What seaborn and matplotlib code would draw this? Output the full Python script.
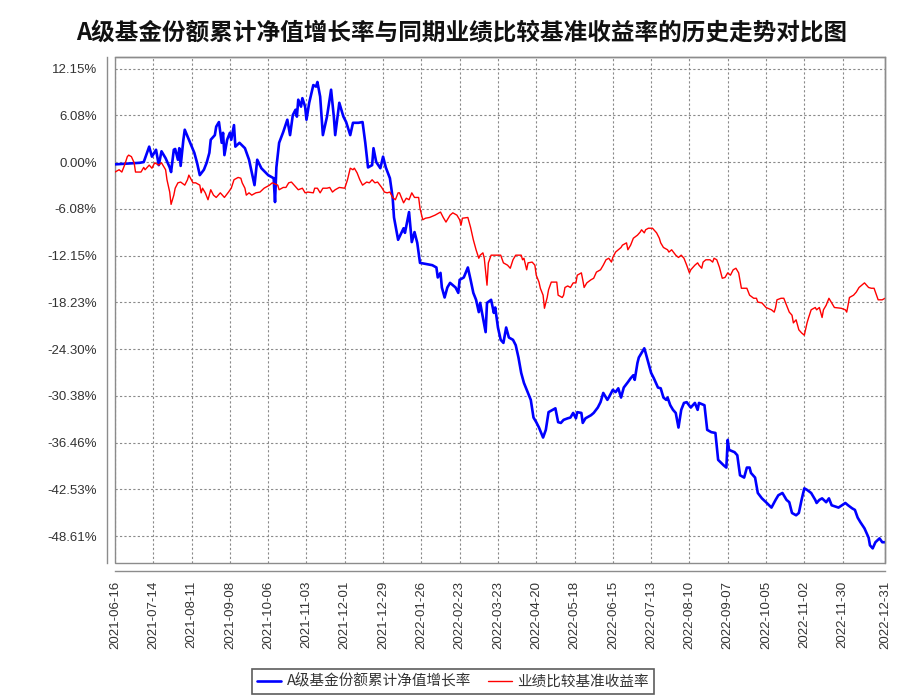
import numpy as np
import pandas as pd
import matplotlib
matplotlib.use("Agg")
import matplotlib.pyplot as plt
import seaborn as sns

# ---------------- data ----------------
START = "2021-06-16"
END = "2022-12-31"
title = "A级基金份额累计净值增长率与同期业绩比较基准收益率的历史走势对比图"
fund_label = "A级基金份额累计净值增长率"
bench_label = "业绩比较基准收益率"

fund_days = [0, 18, 21, 25, 27, 30, 32, 34, 37, 40, 41, 43, 44, 46, 47, 48, 50, 51, 54, 58,
             60, 62, 65, 67, 69, 70, 73, 74, 76, 78, 79, 80, 82, 84, 85, 87, 88, 91, 95, 98,
             102, 104, 107, 112, 116, 117, 118, 120, 123, 126, 128, 130, 132, 133, 134, 136, 137, 139, 140, 142,
             145, 147, 148, 150, 152, 155, 158, 160, 161, 164, 167, 169, 172, 174, 178, 181, 183, 185, 188, 189,
             191, 194, 196, 198, 201, 203, 204, 207, 211, 212, 215, 217, 219, 221, 223, 232, 235, 236, 238, 239,
             241, 243, 245, 249, 251, 252, 255, 258, 260, 262, 264, 266, 267, 269, 271, 272, 275, 277, 278, 280,
             282, 284, 286, 288, 291, 293, 295, 297, 299, 302, 304, 306, 308, 310, 313, 315, 317, 322, 324, 326,
             328, 331, 333, 335, 337, 338, 341, 342, 344, 348, 350, 353, 355, 357, 360, 361, 364, 366, 368, 370,
             372, 375, 377, 379, 380, 382, 383, 385, 387, 388, 390, 392, 394, 397, 399, 401, 403, 404, 406, 408,
             410, 412, 414, 416, 418, 421, 424, 426, 427, 431, 433, 436, 439, 441, 445, 447, 448, 449, 453, 455,
             457, 460, 462, 464, 465, 468, 470, 473, 476, 480, 483, 485, 488, 491, 493, 495, 498, 500, 502, 504,
             506, 509, 512, 513, 515, 517, 520, 522, 524, 529, 534, 536, 539, 541, 543, 545, 548, 551, 552, 554,
             556, 559, 561, 563]
fund_values = [-0.3, -0.1, 0.0, 2.0, 0.7, 1.6, -0.4, 1.4, 0.5, -0.7, -1.3, 1.6, 1.7, 0.3, 1.8, -0.5, 2.9, 4.2, 2.9, 1.2,
               -0.1, -1.7, -1.0, -0.1, 1.2, 2.9, 3.5, 4.6, 5.2, 2.5, 3.8, 0.9, 2.9, 3.8, 2.9, 4.8, 2.0, 2.5, 1.8, 0.3,
               -3.0, 0.3, -0.8, -1.7, -2.1, -5.2, -0.7, 2.5, 3.9, 5.5, 3.5, 6.1, 6.8, 5.9, 8.1, 7.2, 8.3, 7.2, 5.5, 7.7,
               10.0, 9.8, 10.4, 8.5, 3.5, 5.9, 9.4, 5.9, 3.5, 7.7, 5.9, 5.2, 3.5, 5.1, 5.1, 5.2, 2.5, -0.7, -0.4, 1.8,
               0.0, -0.8, 0.7, -0.7, -2.1, -4.6, -7.2, -10.1, -8.6, -9.2, -6.5, -10.4, -9.1, -10.5, -13.1, -13.4, -13.7, -15.0, -14.4, -16.3,
               -17.6, -16.3, -15.7, -16.3, -17.0, -15.3, -15.0, -13.7, -15.3, -17.0, -17.9, -19.5, -18.3, -20.2, -22.1, -18.3, -17.9, -19.6, -18.9, -21.5,
               -23.1, -23.5, -21.5, -22.8, -23.1, -23.8, -25.4, -27.4, -28.7, -30.0, -30.9, -33.2, -33.8, -34.5, -35.8, -34.8, -32.5, -32.0, -33.8, -33.9,
               -33.5, -33.3, -33.2, -32.6, -33.3, -32.5, -32.6, -33.9, -33.3, -32.9, -32.6, -31.9, -31.2, -30.0, -30.9, -30.6, -29.6, -29.9, -29.4, -30.6,
               -29.3, -28.6, -28.1, -27.7, -28.3, -26.1, -25.4, -24.8, -24.2, -24.8, -26.1, -27.4, -28.1, -29.3, -29.4, -30.6, -30.9, -30.6, -31.6, -32.2,
               -32.6, -34.5, -32.2, -31.3, -31.2, -31.9, -31.3, -32.2, -31.3, -31.6, -34.8, -35.1, -35.2, -38.7, -39.4, -39.7, -36.1, -37.4, -37.7, -38.1,
               -40.7, -41.0, -39.7, -39.7, -40.4, -41.0, -43.0, -43.7, -44.2, -44.9, -43.9, -43.3, -43.0, -43.9, -44.2, -45.6, -45.9, -45.6, -43.9, -42.4,
               -42.6, -43.0, -43.9, -44.3, -43.9, -43.7, -44.2, -43.7, -44.6, -44.9, -44.3, -44.6, -45.0, -45.2, -46.2, -46.8, -47.6, -48.8, -49.8, -50.2,
               -49.4, -48.9, -49.4, -49.4]

bench_days = [0, 3, 5, 7, 9, 10, 12, 14, 15, 19, 21, 22, 25, 27, 29, 32, 34, 37, 38, 40,
              41, 43, 44, 46, 48, 51, 53, 54, 57, 59, 62, 63, 64, 66, 68, 70, 72, 74, 77, 80,
              83, 85, 87, 90, 92, 93, 95, 96, 98, 100, 103, 106, 109, 113, 115, 119, 120, 123, 125, 127,
              129, 131, 134, 137, 139, 141, 145, 146, 148, 150, 152, 155, 157, 159, 161, 164, 168, 170, 172, 174,
              175, 177, 179, 181, 184, 186, 188, 190, 192, 195, 197, 199, 201, 203, 205, 207, 208, 211, 213, 215,
              217, 219, 222, 223, 225, 227, 230, 234, 238, 240, 242, 245, 247, 250, 252, 253, 254, 258, 260, 262,
              264, 266, 267, 269, 270, 272, 273, 275, 282, 284, 287, 289, 291, 293, 297, 298, 299, 301, 302, 305,
              307, 308, 310, 311, 313, 314, 316, 317, 319, 323, 324, 327, 328, 329, 331, 333, 335, 337, 338, 341,
              342, 343, 345, 348, 350, 352, 355, 357, 359, 361, 363, 364, 366, 368, 370, 371, 374, 375, 377, 379,
              382, 384, 385, 387, 388, 390, 393, 396, 398, 399, 401, 404, 405, 407, 410, 412, 414, 416, 418, 420,
              421, 424, 426, 427, 429, 430, 432, 435, 437, 438, 440, 442, 444, 446, 448, 450, 452, 454, 456, 458,
              462, 464, 467, 469, 470, 473, 476, 480, 482, 483, 484, 487, 489, 491, 493, 495, 496, 498, 500, 502,
              504, 506, 507, 509, 512, 513, 515, 517, 518, 520, 522, 524, 526, 531, 534, 535, 536, 537, 540, 542,
              544, 546, 548, 551, 553, 555, 556, 558, 561, 563]
bench_values = [-1.3, -1.0, -1.3, -0.4, 0.7, 0.9, 0.7, -0.1, -1.3, -1.3, -0.7, -1.0, -0.4, -0.8, -0.1, -0.4, -0.1, -1.0, -2.3, -3.9,
                -5.5, -4.3, -3.4, -2.7, -2.6, -3.0, -2.3, -1.7, -2.7, -2.7, -3.0, -4.0, -3.4, -4.0, -4.9, -3.6, -4.3, -4.6, -4.0, -4.6,
                -3.9, -3.4, -2.3, -2.0, -2.1, -2.7, -3.4, -4.3, -4.0, -4.3, -4.0, -3.9, -3.4, -3.0, -2.7, -3.0, -3.6, -3.3, -3.3, -2.7,
                -2.6, -3.0, -3.6, -3.4, -4.0, -3.9, -4.0, -3.4, -3.4, -4.0, -3.4, -3.4, -3.3, -3.9, -3.6, -3.3, -3.4, -2.3, -0.8, -1.0,
                -0.8, -1.4, -2.3, -3.0, -2.6, -2.7, -2.3, -2.7, -2.6, -3.3, -3.9, -4.0, -3.9, -4.6, -4.9, -4.0, -4.0, -5.3, -4.7, -4.9,
                -4.0, -4.6, -4.6, -6.0, -7.5, -7.3, -7.2, -6.9, -6.5, -7.2, -7.8, -6.9, -6.6, -6.9, -7.5, -8.2, -7.3, -7.2, -8.5, -10.1,
                -11.4, -12.5, -12.1, -11.8, -12.5, -16.0, -13.1, -12.1, -12.1, -13.1, -13.4, -13.8, -12.7, -12.1, -12.1, -12.7, -12.5, -14.0, -13.1, -13.0,
                -13.4, -14.7, -15.6, -16.4, -17.3, -19.0, -17.6, -16.6, -15.6, -15.6, -17.3, -17.6, -17.3, -16.3, -16.1, -16.3, -15.7, -15.7, -14.7, -14.4,
                -15.3, -16.3, -15.7, -15.3, -15.1, -14.3, -14.0, -13.4, -12.7, -12.5, -13.0, -12.4, -11.7, -11.4, -11.1, -10.8, -10.5, -11.4, -10.8, -9.9,
                -9.5, -9.1, -8.8, -9.2, -8.8, -8.6, -8.6, -9.2, -9.9, -10.5, -11.1, -11.4, -11.7, -11.4, -12.1, -12.4, -12.1, -12.5, -13.4, -14.4,
                -14.0, -13.4, -13.1, -13.4, -13.8, -13.0, -12.7, -12.7, -13.0, -12.5, -12.7, -13.7, -15.1, -15.0, -14.4, -14.7, -14.0, -13.8, -14.4, -16.4,
                -16.4, -17.3, -17.7, -17.7, -18.2, -18.3, -18.9, -19.2, -19.5, -18.9, -17.9, -17.7, -17.7, -18.6, -19.5, -19.9, -20.9, -20.5, -21.8, -22.2,
                -22.5, -20.9, -20.3, -19.2, -18.9, -19.2, -18.9, -20.2, -19.2, -18.6, -17.7, -18.3, -18.9, -19.0, -19.2, -19.5, -18.6, -17.6, -17.3, -16.9,
                -16.3, -16.0, -15.7, -16.3, -16.4, -16.4, -16.9, -17.9, -17.9, -17.7]

y_tick_values = [12.152, 6.076, 0.0, -6.076, -12.152, -18.228, -24.304, -30.38, -36.456, -42.532, -48.608]
y_tick_labels = ["12.15%", "6.08%", "0.00%", "-6.08%", "-12.15%", "-18.23%", "-24.30%",
                 "-30.38%", "-36.46%", "-42.53%", "-48.61%"]
x_tick_labels = ["2021-06-16", "2021-07-14", "2021-08-11", "2021-09-08", "2021-10-06", "2021-11-03",
                 "2021-12-01", "2021-12-29", "2022-01-26", "2022-02-23", "2022-03-23", "2022-04-20",
                 "2022-05-18", "2022-06-15", "2022-07-13", "2022-08-10", "2022-09-07", "2022-10-05",
                 "2022-11-02", "2022-11-30", "2022-12-31"]

# ---------------- frames ----------------
start = pd.Timestamp(START)
df_fund = pd.DataFrame({"date": start + pd.to_timedelta(fund_days, unit="D"), "value": fund_values})
df_bench = pd.DataFrame({"date": start + pd.to_timedelta(bench_days, unit="D"), "value": bench_values})

sns.set_style("white")
plt.rcParams["font.family"] = ["Liberation Sans", "Noto Sans CJK SC", "DejaVu Sans"]

fig = plt.figure(figsize=(9.21, 7.0), dpi=100)
ax = fig.add_axes([115 / 921, 1 - 563 / 700, 770 / 921, 506 / 700])

sns.lineplot(data=df_fund, x="date", y="value", color="#0000ff", linewidth=1.9,
             ax=ax, label=fund_label, estimator=None, sort=False)
sns.lineplot(data=df_bench, x="date", y="value", color="#ff0000", linewidth=1.0,
             ax=ax, label=bench_label, estimator=None, sort=False)

ax.set_xlim(pd.Timestamp(START), pd.Timestamp(END))
ax.set_ylim(-52.1, 13.65)
ax.set_yticks(y_tick_values)
ax.set_yticklabels(y_tick_labels)
ax.set_xticks(pd.to_datetime(x_tick_labels))
ax.set_xticklabels(x_tick_labels)
ax.set_xlabel("")
ax.set_ylabel("")

ax.grid(True, linestyle=(0, (2, 2)), color="#8a8a8a", linewidth=0.8)
ax.set_axisbelow(True)

frame_col = "#8c8c8c"
for side in ["top", "right"]:
    ax.spines[side].set_color(frame_col)
    ax.spines[side].set_linewidth(1.0)
for side in ["left", "bottom"]:
    ax.spines[side].set_position(("outward", 6))
    ax.spines[side].set_color(frame_col)
    ax.spines[side].set_linewidth(1.0)
ax.patch.set_edgecolor(frame_col)
ax.patch.set_linewidth(1.0)

ax.tick_params(axis="both", direction="out", length=4, width=1, color=frame_col,
               labelcolor="#333333", labelsize=9.5, pad=3)
ax.tick_params(axis="x", labelrotation=90)

fig.text(462 / 921, 1 - 33 / 700, title, ha="center", va="center", fontsize=17,
         fontweight="bold", family=["Noto Sans CJK SC", "DejaVu Sans"], color="#111111")

leg = ax.legend(loc="upper left", bbox_to_anchor=(245 / 921, 1 - 662 / 700),
                bbox_transform=fig.transFigure, ncol=2, frameon=True, fancybox=False,
                edgecolor="#333333", handlelength=1.6, handletextpad=0.4, columnspacing=1.2,
                borderpad=0.35, prop={"family": ["Noto Sans CJK SC", "DejaVu Sans"], "size": 10.5})
leg.get_frame().set_linewidth(1.2)
for t in leg.get_texts():
    t.set_color("#333333")

fig.savefig("out.png", dpi=100, facecolor="white")
